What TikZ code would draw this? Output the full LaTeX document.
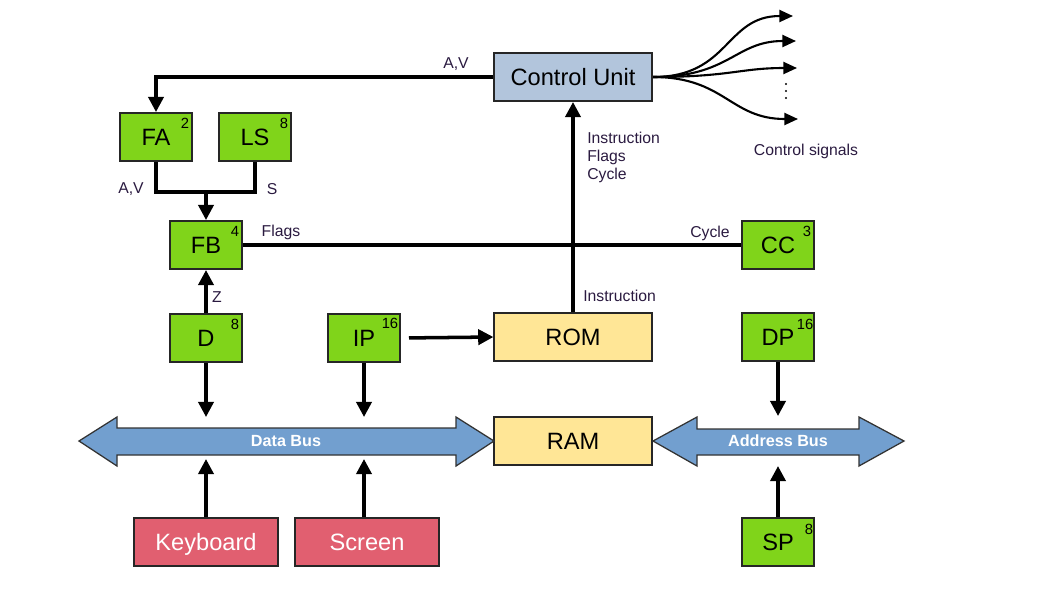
\documentclass[tikz,border=0pt]{standalone}
\usepackage{fontspec}
\setmainfont{Liberation Sans}
\usetikzlibrary{arrows.meta}
\definecolor{regGreen}{HTML}{80D41A}
\definecolor{memYellow}{HTML}{FFE696}
\definecolor{ioRed}{HTML}{E15F70}
\definecolor{cuBlue}{HTML}{B2C5DC}
\definecolor{busBlue}{HTML}{729FCF}
\definecolor{labelInk}{HTML}{2A1A40}
\tikzset{
  box/.style={draw=black!85, line width=1.4pt, inner sep=0pt, minimum height=1.2cm,
    font=\fontsize{16.8}{20}\selectfont, text height=12pt, text depth=0pt},
  reg/.style={box, fill=regGreen, minimum width=1.8cm},
  mem/.style={box, fill=memYellow, minimum width=3.93cm},
  iodev/.style={box, fill=ioRed, text=white, minimum width=3.6cm},
  unit/.style={box, fill=cuBlue, minimum width=3.95cm},
  bits/.style={font=\fontsize{10.5}{12}\selectfont, inner sep=0pt},
  lbl/.style={font=\fontsize{11.2}{12.6}\selectfont, text=labelInk, inner sep=0pt},
  wire/.style={line width=2.5pt, -{Triangle[length=0.38cm, width=0.38cm]}},
  plain/.style={line width=2.5pt},
  signal/.style={line width=1.5pt, -{Triangle[length=0.34cm, width=0.3cm]}},
  bus/.style={draw=black!80, line width=0.9pt, fill=busBlue},
  buslbl/.style={font=\bfseries\fontsize{11.5}{13}\selectfont, text=white}
}
\begin{document}
\begin{tikzpicture}[x=0.025cm, y=-0.025cm]
\useasboundingbox (0,0) rectangle (1058,595);

% registers and units
\node[unit] (CU) at (573,77) {Control Unit};
\node[reg] (FA) at (156,137) {FA};
\node[reg] (LS) at (255,137) {LS};
\node[reg] (FB) at (206,245) {FB};
\node[reg] (CC) at (778,245) {CC};
\node[reg] (D) at (206,338) {D};
\node[reg] (IP) at (364,338) {IP};
\node[reg] (DP) at (778,337) {DP};
\node[reg] (SP) at (778,542) {SP};
\node[mem] (ROM) at (573,337) {ROM};
\node[mem] (RAM) at (573,441) {RAM};
\node[iodev] (KB) at (206,542) {Keyboard};
\node[iodev] (SCR) at (367,542) {Screen};

% bit widths
\node[bits] at ([shift={(-8,11)}]FA.north east) {2};
\node[bits] at ([shift={(-8,11)}]LS.north east) {8};
\node[bits] at ([shift={(-8,11)}]FB.north east) {4};
\node[bits] at ([shift={(-8,11)}]CC.north east) {3};
\node[bits] at ([shift={(-8,11)}]D.north east) {8};
\node[bits] at ([shift={(-11,10)}]IP.north east) {16};
\node[bits] at ([shift={(-10,12)}]DP.north east) {16};
\node[bits] at ([shift={(-6,12)}]SP.north east) {8};

% buses
\draw[bus] (79,441) -- (117,417) -- (117,428) -- (456,428) -- (456,417) -- (494,441)
  -- (456,466) -- (456,455) -- (117,455) -- (117,466) -- cycle;
\node[buslbl] (DB) at (286,441) {Data Bus};
\draw[bus] (653,441) -- (697,417) -- (697,429) -- (859,429) -- (859,417) -- (904,441)
  -- (859,466) -- (859,455) -- (697,455) -- (697,466) -- cycle;
\node[buslbl] (AB) at (778,441) {Address Bus};
\coordinate (dbTop) at (0,417);
\coordinate (dbBot) at (0,459);
\coordinate (abTop) at (0,416);
\coordinate (abBot) at (0,466);

% connections
\draw[wire] (CU.west) -| (FA.north);
\draw[plain] (FA.south) -- ++(0,30) -| (LS.south);
\coordinate (join) at (206,191);
\draw[wire] (join) -- (FB.north);
\draw[plain] (FB.east) -- (CC.west);
\draw[wire] (ROM.north) -- (CU.south);
\draw[wire] (D.north) -- (FB.south);
\draw[wire] (D.south) -- (D.south |- dbTop);
\draw[wire] (IP.south) -- (IP.south |- dbTop);
\draw[wire, shorten <=0.2cm] (IP.east) -- (ROM.west);
\draw[wire] (DP.south) -- (DP.south |- abTop);
\draw[wire] (KB.north) -- (KB.north |- dbBot);
\draw[wire] ([xshift=-0.075cm]SCR.north) -- ([xshift=-0.075cm]SCR.north |- dbBot);
\draw[wire] (SP.north) -- (SP.north |- abBot);

% control signals
\coordinate (sig1) at (793,16);
\coordinate (sig2) at (796,41);
\coordinate (sig3) at (797,68);
\coordinate (sig4) at (798,119);
\draw[signal] (CU.east) .. controls (730,77) and (725,16) .. (sig1);
\draw[signal] (CU.east) .. controls (730,77) and (735,41) .. (sig2);
\draw[signal] (CU.east) .. controls (730,77) and (740,68) .. (sig3);
\draw[signal] (CU.east) .. controls (725,77) and (730,119) .. (sig4);
\foreach \y in {84,91,98}
  \fill (786,\y) circle [radius=1.1];
\node[lbl] (sigtext) at (806,151) {Control signals};

% labels
\node[lbl] at (456,64) {A,V};
\node[lbl] at (131,189) {A,V};
\node[lbl] at (272,189) {S};
\node[lbl] at (281,232) {Flags};
\node[lbl] at (710,233) {Cycle};
\node[lbl, align=left, anchor=north west] at (587,132) {Instruction\\Flags\\Cycle};
\node[lbl, anchor=west] at (583,296) {Instruction};
\node[lbl] at (217,297) {Z};
\end{tikzpicture}
\end{document}
